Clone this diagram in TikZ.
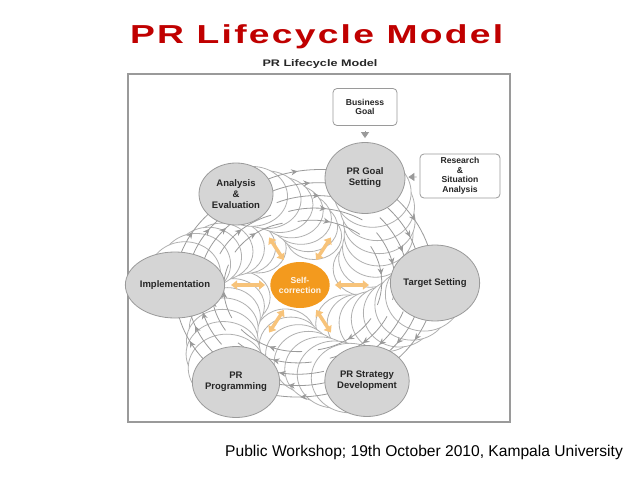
\documentclass[tikz,border=0pt]{standalone}
\usepackage{fontspec}
\setmainfont{Liberation Sans}
\usetikzlibrary{arrows.meta,positioning,shapes.geometric,decorations.markings}

\definecolor{titlered}{HTML}{C00000}
\definecolor{stagegray}{HTML}{D5D5D5}
\definecolor{edgegray}{HTML}{9A9A9A}
\definecolor{trailgray}{HTML}{B0B0B0}
\definecolor{coreorange}{HTML}{F39A1E}
\definecolor{pullorange}{HTML}{F7C37A}

\begin{document}
\begin{tikzpicture}[x=1pt, y=-1pt,
    stage/.style={ellipse, draw=edgegray, fill=stagegray, line width=0.8pt,
      minimum width=80pt, minimum height=71pt, inner sep=0pt, align=center,
      font=\fontsize{9.5}{11}\selectfont\bfseries, text=black!85},
    inbox/.style={draw=edgegray, fill=white, rounded corners=4pt, line width=0.8pt,
      minimum width=64pt, minimum height=37pt, inner sep=1pt, align=center,
      font=\fontsize{8.6}{9.5}\selectfont\bfseries, text=black!85},
    core/.style={ellipse, fill=coreorange, minimum width=54pt, minimum height=46pt,
      inner sep=0pt, align=center, text=white!92!coreorange,
      font=\fontsize{8.6}{10}\selectfont\bfseries},
    trail/.style={draw=trailgray, fill=white, line width=0.8pt},
    flow/.style={draw=edgegray, line width=0.8pt, postaction={decorate},
      decoration={markings, mark=at position 0.5 with {\arrow{Stealth[length=6.5pt,width=6pt]}}}},
    feed/.style={-{Triangle[length=6pt,width=8pt]}, draw=edgegray, line width=0.8pt},
    pull/.style={{Triangle[length=6pt,width=9pt]}-{Triangle[length=6pt,width=9pt]},
      draw=pullorange, line width=3.5pt}
  ]
  \useasboundingbox (0,0) rectangle (638,479);
  \fill[white] (0,0) rectangle (638,479);

  \node[anchor=base west, inner sep=0pt, text=titlered,
    font=\fontsize{26}{30}\selectfont\bfseries] (title) at (130,43)
    {\resizebox{373pt}{\height}{\addfontfeature{LetterSpace=6}PR Lifecycle Model}};
  \node[inner sep=0pt, font=\fontsize{9.5}{11}\selectfont\bfseries, text=black!85]
    (subtitle) at (320,64) {\resizebox{115pt}{\height}{PR Lifecycle Model}};
  \draw[edgegray, line width=1.2pt] (128,74) rectangle (510,422);

  \foreach \k in {7,...,1} {
    \foreach \ta/\ra/\w/\h in {-62.2/121/40/36, -1.5/117/40/38, 58.5/111/40/36,
        121/113/40/35, 180/109/37/33, 238.2/106/37/31} {
      \pgfmathsetmacro\ang{\ta+6.5*\k}
      \pgfmathsetmacro\rad{\ra*(1-0.075*\k)}
      \pgfmathsetmacro\rx{\w*(1-0.035*\k)}
      \pgfmathsetmacro\ry{\h*(1-0.035*\k)}
      \draw[trail] ({300+1.15*\rad*cos(\ang)},{285+\rad*sin(\ang)})
        ellipse [x radius=\rx pt, y radius=\ry pt];
    }
  }

  \foreach \ta/\ra/\tb/\rb in {-62.2/121/-1.5/117, -1.5/117/58.5/111, 58.5/111/121/113,
      121/113/180/109, 180/109/238.2/106, 238.2/106/297.8/121} {
    \foreach \j in {0,...,4} {
      \pgfmathsetmacro\fa{1-0.1*\j}
      \pgfmathsetmacro\aa{\ta+6*\j+6}
      \pgfmathsetmacro\ab{\tb+6*\j-6}
      \draw[flow] plot[domain=0:1, samples=18]
        ({300+1.15*(\ra+(\rb-\ra)*\x)*\fa*cos(\aa+(\ab-\aa)*\x)},
         {285+(\ra+(\rb-\ra)*\x)*\fa*sin(\aa+(\ab-\aa)*\x)});
    }
  }

  \node[stage] (goal) at (365,178) {PR Goal\\Setting};
  \node[stage, minimum height=76pt] (target) at (435,283) {Target Setting};
  \node[stage] (strategy) at (367,381) {PR Strategy\\Development};
  \node[stage] (programming) at (236,382) {PR\\Programming};
  \node[stage, minimum width=75pt, minimum height=66pt] (implementation) at (175,285) {Implementation};
  \node[stage, minimum width=74pt, minimum height=62pt] (analysis) at (236,194) {Analysis\\\&\\Evaluation};

  \node[core] (core) at (300,285) {Self-\\correction};
  \foreach \a/\l in {0/34, 57/27, 123/27, 180/34, 237/27, 303/27}
    \draw[pull] (core.\a) ++(\a:5pt) -- ++(\a:\l pt);

  \node[inbox] (business) at (365,107) {Business\\Goal};
  \node[inbox, minimum width=80pt, minimum height=44pt] (research) at (460,176)
    {Research\\\&\\Situation\\Analysis};
  \draw[feed, shorten <=5pt, shorten >=4pt] (business) -- (goal);
  \draw[feed, shorten <=3pt, shorten >=3pt] (research) -- (goal);

  \node[anchor=base west, inner sep=0pt, font=\fontsize{15.6}{18}\selectfont]
    (footer) at (225,456) {Public Workshop; 19th October 2010, Kampala University};
\end{tikzpicture}
\end{document}
